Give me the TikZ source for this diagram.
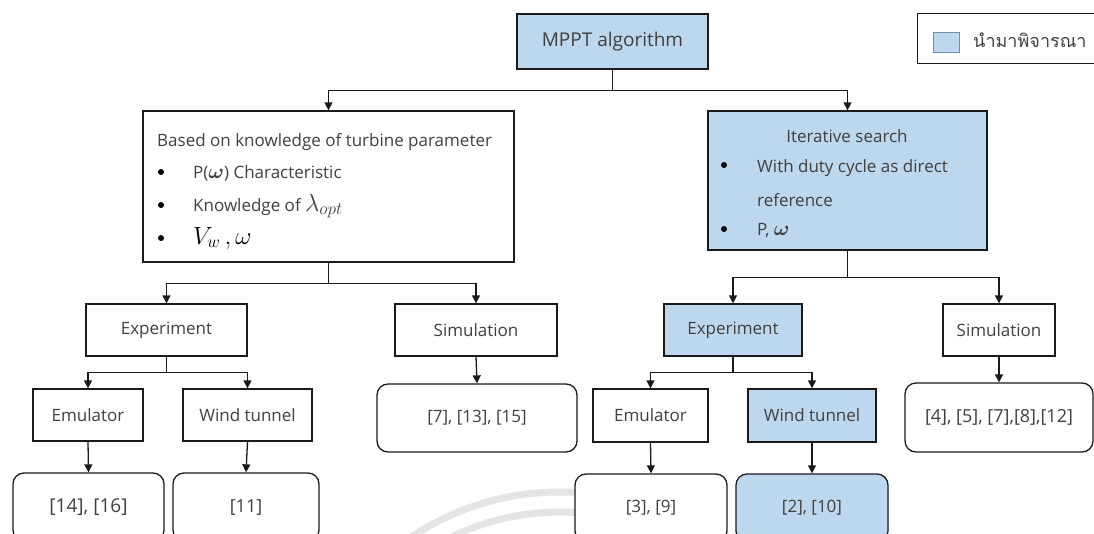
\documentclass[tikz,border=0pt]{standalone}
\usepackage{fontspec}
\usepackage{bm}
\setmainfont{Open Sans}
\newfontfamily\thaifont[Script=Thai]{Loma}
\usetikzlibrary{arrows.meta,calc}
\definecolor{paleblue}{HTML}{BDD7EE}
\definecolor{ink}{HTML}{404040}
\definecolor{edge}{HTML}{1A1A1A}
\definecolor{watermark}{HTML}{E4E4E4}
\definecolor{keyedge}{HTML}{6F8FB0}

\newcommand{\fs}[1]{\fontsize{#1}{#1}\selectfont}

\begin{document}
\begin{tikzpicture}[x=1pt,y=-1pt,
  txt/.style={text=ink, inner sep=0pt, font=\fs{17}},
  box/.style={txt, draw=edge, line width=1.3pt, fill=white},
  sel/.style={fill=paleblue},
  refbox/.style={box, rounded corners=11pt},
  dot/.style={circle, fill=black, inner sep=0pt, minimum size=6pt},
  conn/.style={draw=edge, line width=1.3pt},
  arr/.style={conn, -{Triangle[length=8pt,width=8pt]}},
]
\useasboundingbox (0,0) rectangle (1094,533);
\clip (0,0) rectangle (1094,533);

% faint logo rings behind the lower boxes
\draw[watermark, line width=7pt] (560,760) circle (268);
\draw[watermark, line width=7pt] (560,760) circle (248);

% legend
\node[draw=edge, line width=1.3pt, minimum width=190pt, minimum height=50pt, anchor=north west, inner sep=0pt] (key) at (917,13) {};
\node[draw=keyedge, line width=1pt, fill=paleblue, minimum width=26pt, minimum height=20pt, inner sep=0pt] (keysq) at (946,42) {};
\node[txt, anchor=west, font=\thaifont\fs{18}] (keytxt) at (973,40) {นำมาพิจารณา};

% level 0
\node[box, sel, minimum width=191pt, minimum height=55pt, font=\fs{19}] (mppt) at (612.5,41.5) {MPPT algorithm};

% level 1
\node[box, minimum width=371pt, minimum height=151pt] (kb) at (328.5,186.5) {};
\node[box, sel, minimum width=279pt, minimum height=139pt] (it) at (847.5,180.5) {};

\node[txt, anchor=west] (kbhead) at (157,142) {Based on knowledge of turbine parameter};
\node[dot] (kbd1) at (161,172) {};
\node[dot] (kbd2) at (161,205) {};
\node[dot] (kbd3) at (161,238) {};
\node[txt, anchor=west] (kbi1) at (193,173) {P({\fs{20}$\bm{\omega}$}) Characteristic};
\node[txt, anchor=base west] (kbi2) at (193,211) {Knowledge of {\fs{26}$\lambda_{opt}$}};
\node[txt, anchor=base west, text=black] (kbi3) at (193,244) {\fs{25}$V_{w}\,, \omega$};

\node[txt] (ithead) at (847,136) {Iterative search};
\node[dot] (itd1) at (724,165) {};
\node[dot] (itd2) at (724,229) {};
\node[txt, anchor=west] (iti1) at (757,168) {With duty cycle as direct};
\node[txt, anchor=west] (iti2) at (757,200) {reference};
\node[txt, anchor=west] (iti3) at (757,231) {P, {\fs{20}$\bm{\omega}$}};

% level 2
\node[box, minimum width=161pt, minimum height=52pt] (expL) at (166.5,330) {Experiment};
\node[box, minimum width=162pt, minimum height=52pt] (simL) at (476,330) {Simulation};
\node[box, sel, minimum width=138pt, minimum height=52pt] (expR) at (733,330) {Experiment};
\node[box, minimum width=112pt, minimum height=52pt] (simR) at (999,330) {Simulation};

% level 3
\node[box, minimum width=110pt, minimum height=52pt] (emuL) at (88,415) {Emulator};
\node[box, minimum width=129pt, minimum height=52pt] (wtL) at (247.5,415) {Wind tunnel};
\node[refbox, minimum width=200pt, minimum height=68pt, font=\fs{17}] (refsimL) at (477,418) {[7], [13], [15]};
\node[box, minimum width=115pt, minimum height=53pt] (emuR) at (650.5,415.5) {Emulator};
\node[box, sel, minimum width=128pt, minimum height=53pt] (wtR) at (812,415.5) {Wind tunnel};
\node[refbox, minimum width=188pt, minimum height=69pt, font=\fs{18}] (refsimR) at (999,417.5) {[4], [5], [7],[8],[12]};

% level 4
\node[refbox, minimum width=151pt, minimum height=68pt, font=\fs{19}] (refemuL) at (88.5,507) {[14], [16]};
\node[refbox, minimum width=146pt, minimum height=68pt, font=\fs{18}] (refwtL) at (246,507) {[11]};
\node[refbox, minimum width=152pt, minimum height=68pt] (refemuR) at (651,508) {[3], [9]};
\node[refbox, sel, minimum width=152pt, minimum height=68pt] (refwtR) at (812,508) {[2], [10]};

% connectors
\coordinate (j0) at ($(mppt.south)+(0,21)$);
\draw[arr] (mppt.south) -- (j0) -| (kb.north);
\draw[arr] (j0) -| (it.north);

\coordinate (j1) at ($(kb.south)+(0,21)$);
\draw[arr] (kb.south) -- (j1) -| (expL.north);
\draw[arr] (j1) -| (simL.north);

\coordinate (j2) at ($(it.south)+(0,27)$);
\draw[arr] (it.south) -- (j2) -| (expR.north);
\draw[arr] (j2) -| (simR.north);

\coordinate (j3) at ($(expL.south)+(0,16)$);
\draw[arr] (expL.south) -- (j3) -| (emuL.north);
\draw[arr] (j3) -| (wtL.north);

\coordinate (j4) at ($(expR.south)+(0,16)$);
\draw[arr] (expR.south) -- (j4) -| (emuR.north);
\draw[arr] (j4) -| (wtR.north);

\draw[arr] (simL.south) -- (refsimL.north);
\draw[arr] (simR.south) -- (refsimR.north);
\draw[arr] (emuL.south) -- (refemuL.north);
\draw[arr] (wtL.south) -- (refwtL.north);
\draw[arr] (emuR.south) -- (refemuR.north);
\draw[arr] (wtR.south) -- (refwtR.north);
\end{tikzpicture}
\end{document}
